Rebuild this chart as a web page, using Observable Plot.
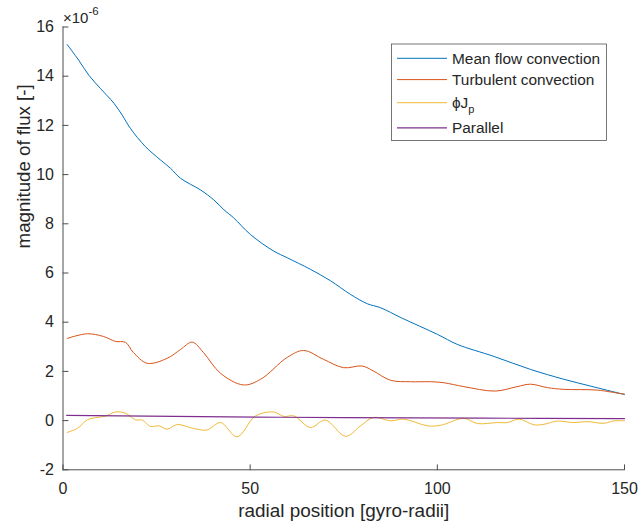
<!DOCTYPE html>
<html><head><meta charset="utf-8">
<script src="https://cdn.jsdelivr.net/npm/d3@7"></script>
<script src="https://cdn.jsdelivr.net/npm/@observablehq/plot@0.6"></script>
<style>
body{margin:0;background:#fff;}
#chart{width:641px;height:531px;}
</style>
</head><body><div id="chart"></div>
<script>
// ---- data (values in units of 1e-6) ----
const seriesNames = ["Mean flow convection", "Turbulent convection", "ϕJp", "Parallel"];
const seriesColors = ["#0072BD", "#D95319", "#EDB120", "#7E2F8E"];
const xTicks = [0, 50, 100, 150];
const yTicks = [-2, 0, 2, 4, 6, 8, 10, 12, 14, 16];

const meanFlowX = [1.1, 4.2, 6.9, 10, 13.6, 15.8, 18, 22, 26, 28.7, 31.4, 36.7, 40.3, 43, 45.6, 50.1, 56.3, 59.9, 66.1, 71.5, 76.8, 81.3, 84.8, 90.5, 100.1, 105.3, 115.1, 124.9, 133.8, 141, 148.9, 150];
const meanFlowY = [15.29, 14.65, 14.04, 13.5, 12.9, 12.42, 11.88, 11.14, 10.6, 10.26, 9.85, 9.38, 8.97, 8.57, 8.24, 7.56, 6.89, 6.62, 6.15, 5.68, 5.13, 4.75, 4.59, 4.17, 3.5, 3.1, 2.61, 2.08, 1.68, 1.4, 1.1, 1.06];

const turbX = [1.1, 6.5, 10.8, 14, 16.7, 18.8, 22.5, 27.8, 31.4, 34.5, 37.5, 42.1, 48.2, 52.8, 59.9, 64.3, 69.6, 75, 79.9, 83, 87.5, 92.8, 98.2, 101.7, 107.1, 115.5, 121.3, 124.9, 129.4, 133.8, 142.7, 148.9, 150];
const turbY = [3.34, 3.53, 3.42, 3.22, 3.18, 2.77, 2.33, 2.53, 2.89, 3.19, 2.77, 1.92, 1.45, 1.68, 2.57, 2.85, 2.49, 2.15, 2.22, 2.01, 1.64, 1.58, 1.58, 1.54, 1.38, 1.2, 1.38, 1.48, 1.34, 1.27, 1.24, 1.1, 1.08];

const phiJpX = [1.1, 3.8, 6.5, 9.1, 11.4, 14, 16.7, 19.4, 21.2, 23.4, 25.6, 27.8, 30.5, 34.9, 38.5, 42.1, 46.5, 51.4, 56.3, 59, 61.7, 66.1, 70.1, 75.5, 79.5, 83, 87.5, 91, 97.3, 100.9, 107.1, 110.7, 116, 118.7, 121.8, 125.8, 128.5, 132, 136.5, 140, 144.5, 147.2, 150];
const phiJpY = [-0.48, -0.32, 0.03, 0.13, 0.18, 0.35, 0.3, 0.03, 0.02, -0.24, -0.21, -0.35, -0.16, -0.32, -0.38, -0.08, -0.66, 0.19, 0.35, 0.17, 0.19, -0.28, 0.02, -0.64, -0.21, 0.13, -0.01, 0.06, -0.21, -0.19, 0.09, -0.12, -0.08, -0.08, 0.06, -0.17, -0.15, -0.02, -0.08, -0.04, -0.11, -0.01, -0.01];

const parallelX = [1, 37, 75, 112, 150];
const parallelY = [0.21, 0.16, 0.12, 0.1, 0.08];

const seriesX = [meanFlowX, turbX, phiJpX, parallelX];
const seriesY = [meanFlowY, turbY, phiJpY, parallelY];
const seriesWidth = [1, 1, 0.9, 1.2];

// ---- build table ----
const rows = [];
seriesNames.forEach((name, s) => {
  seriesX[s].forEach((x, i) => rows.push({series: name, x, y: seriesY[s][i]}));
});

const FONT = "'Liberation Sans', Arial, Helvetica, sans-serif";
const AX = "#4d4d4d";
const TXT = "#262626";

const tickShape = {draw(ctx, l) { ctx.moveTo(0, 0); ctx.lineTo(0, -l); }};

const lineMarks = seriesNames.map((name, s) =>
  Plot.line(rows.filter(d => d.series === name), {
    x: "x", y: "y", stroke: seriesColors[s], strokeWidth: seriesWidth[s], curve: "catmull-rom"
  })
);

const svg = Plot.plot({
  width: 641, height: 531,
  marginLeft: 62.5, marginRight: 17, marginTop: 26.5, marginBottom: 61.7,
  style: {fontFamily: FONT, fontSize: "16px", color: TXT, background: "white", overflow: "visible"},
  x: {domain: [0, 150]},
  y: {domain: [-2, 16]},
  marks: [
    Plot.ruleY([-2], {stroke: AX, strokeWidth: 1}),
    Plot.ruleX([0], {stroke: AX, strokeWidth: 1}),
    Plot.vector(xTicks, {x: d => d, frameAnchor: "bottom", length: 5, rotate: 0, anchor: "start", shape: tickShape, stroke: AX, strokeWidth: 1}),
    Plot.vector(yTicks, {y: d => d, frameAnchor: "left", length: 5, rotate: 90, anchor: "start", shape: tickShape, stroke: AX, strokeWidth: 1}),
    Plot.axisX(xTicks, {tickSize: 0, tickPadding: 13, stroke: "none", fill: TXT, label: null, fontSize: 16, tickFormat: d => `${d}`}),
    Plot.axisY(yTicks, {tickSize: 0, tickPadding: 9, stroke: "none", fill: TXT, label: null, fontSize: 16, tickFormat: d => `${d}`}),
    ...lineMarks,
    Plot.text(["radial position [gyro-radii]"], {frameAnchor: "bottom", dy: 47, fontSize: 18.9, fill: TXT}),
    Plot.text(["magnitude of flux [-]"], {frameAnchor: "left", rotate: -90, dx: -38.5, fontSize: 18.7, fill: TXT})
  ]
});

// exponent label
const s = d3.select(svg);
const ex = s.append("text").attr("x", 63).attr("y", 23.3)
  .style("text-anchor", "start").style("font-family", FONT).style("fill", TXT).style("font-size", "15px");
ex.append("tspan").text("×10");
ex.append("tspan").style("font-size", "11.5px").attr("dy", -8.3).text("-6");

// legend
const lg = s.append("g").style("font-family", FONT).style("text-anchor", "start");
lg.append("rect").attr("x", 391.5).attr("y", 44).attr("width", 215).attr("height", 96.5)
  .attr("fill", "white").attr("stroke", "#555").attr("stroke-width", 0.8);
const rowY = [58.3, 79.6, 102.7, 127.8];
seriesNames.forEach((name, i) => {
  lg.append("line").attr("x1", 397).attr("x2", 447).attr("y1", rowY[i]).attr("y2", rowY[i])
    .attr("stroke", seriesColors[i]).attr("stroke-width", seriesWidth[i]);
  const t = lg.append("text").attr("x", 452).attr("y", rowY[i] + 5.6)
    .style("text-anchor", "start").style("font-size", "15.4px").style("fill", TXT);
  if (i === 2) {
    t.append("tspan").text("ϕJ");
    t.append("tspan").style("font-size", "11px").attr("dy", 4.5).text("p");
  } else {
    t.text(name);
  }
});

document.getElementById("chart").appendChild(svg);
</script>
</body></html>
